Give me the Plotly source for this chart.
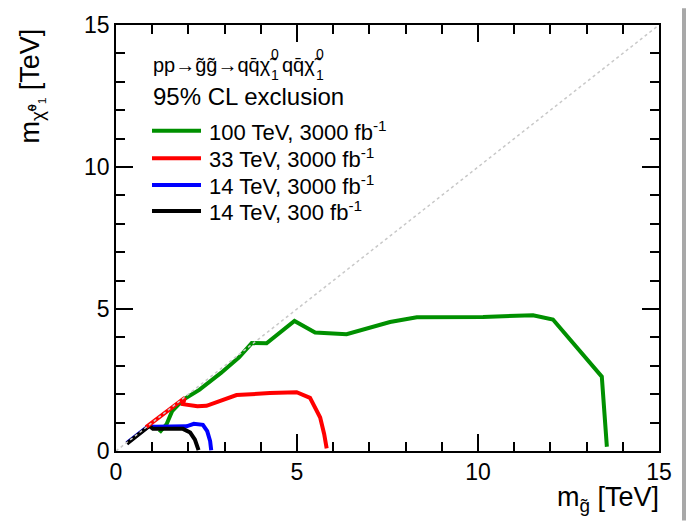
import plotly.graph_objects as go

# Exclusion contours: gluino mass (x) vs neutralino mass (y), both in TeV
green_x = [1.20, 1.40, 1.55, 1.85, 2.30, 2.90, 3.40, 3.75, 4.16, 4.93, 5.50, 6.37, 7.57, 8.31, 10.14, 11.52, 12.07, 13.42, 13.56]
green_y = [0.65, 0.95, 1.40, 1.80, 2.15, 2.75, 3.30, 3.80, 3.79, 4.58, 4.17, 4.11, 4.54, 4.71, 4.72, 4.78, 4.63, 2.62, 0.15]

red_x = [0.83, 1.30, 1.90, 1.85, 2.25, 2.50, 3.33, 4.25, 4.99, 5.36, 5.64, 5.75, 5.82]
red_y = [0.84, 1.30, 1.87, 1.65, 1.58, 1.59, 1.97, 2.04, 2.07, 1.87, 1.18, 0.60, 0.09]

blue_x = [0.30, 0.92, 1.05, 1.95, 2.15, 2.40, 2.52, 2.60, 2.63]
blue_y = [0.28, 0.90, 0.85, 0.87, 0.96, 0.92, 0.70, 0.35, 0.03]

black_x = [0.30, 0.92, 1.02, 1.85, 2.05, 2.18, 2.28]
black_y = [0.26, 0.88, 0.78, 0.78, 0.65, 0.40, 0.03]

series_labels = ["100 TeV, 3000 fb<sup>-1</sup>", "33 TeV, 3000 fb<sup>-1</sup>",
                 "14 TeV, 3000 fb<sup>-1</sup>", "14 TeV, 300 fb<sup>-1</sup>"]
series_colors = ["#009000", "#ff0000", "#0000ff", "#000000"]

diagonal = [0, 15]
axis_range = [0, 15]

FONT = "Liberation Sans, Arial, sans-serif"
W, H = 686, 521
L, R, T, B = 116, 659, 16, 451   # plot-area edges in pixels


def px(x):
    return (x - L) / (R - L)


def py(y):
    return (B - y) / (B - T)


fig = go.Figure()

curves = [(green_x, green_y), (red_x, red_y), (blue_x, blue_y), (black_x, black_y)]
draw_order = [0, 2, 3, 1]
for i in draw_order:
    xs, ys = curves[i]
    fig.add_trace(go.Scatter(x=xs, y=ys, mode="lines",
                             line=dict(color=series_colors[i], width=4),
                             showlegend=False, hoverinfo="skip"))

# m(gluino) = m(neutralino) reference line
fig.add_trace(go.Scatter(x=diagonal, y=diagonal, mode="lines",
                         line=dict(color="#c8c8c8", width=1.5, dash="dot"),
                         showlegend=False, hoverinfo="skip"))

# empty trace so the top/right tick axes get drawn
fig.add_trace(go.Scatter(x=[], y=[], xaxis="x2", yaxis="y2", showlegend=False,
                         hoverinfo="skip"))

tick_common = dict(range=axis_range, ticks="inside", ticklen=17, tickwidth=1.5,
                   tickcolor="black", dtick=5, tick0=0, showgrid=False, zeroline=False,
                   minor=dict(ticks="inside", ticklen=9, tickwidth=1.5,
                              tickcolor="black", dtick=1, showgrid=False))

fig.update_layout(
    width=W, height=H,
    margin=dict(l=L, r=W - R, t=T, b=H - B, pad=0),
    paper_bgcolor="white", plot_bgcolor="white",
    xaxis=dict(**tick_common, showline=True, linecolor="black", linewidth=1.5, mirror=True,
               tickfont=dict(family=FONT, size=23, color="black")),
    yaxis=dict(**tick_common, showline=True, linecolor="black", linewidth=1.5, mirror=True,
               tickfont=dict(family=FONT, size=23, color="black")),
    xaxis2=dict(**tick_common, overlaying="x", side="top", anchor="y2",
                showline=False, showticklabels=False),
    yaxis2=dict(**tick_common, overlaying="y", side="right", anchor="x2",
                showline=False, showticklabels=False),
    showlegend=False,
)

ann = []
head = dict(family=FONT, size=20, color="black")
small = dict(family=FONT, size=14, color="black")
# header: pp -> gluino gluino -> q qbar chi q qbar chi, with stacked 0/1 indices
ann.append(dict(text="pp→g̃g̃→qq̄χ̃", x=px(151), y=py(57), xanchor="left", yanchor="middle", font=head))
ann.append(dict(text="qq̄χ̃", x=px(280), y=py(57), xanchor="left", yanchor="middle", font=head))
for sx in [269, 314]:
    ann.append(dict(text="0", x=px(sx), y=py(46), xanchor="left", yanchor="middle", font=small))
    ann.append(dict(text="1", x=px(sx), y=py(67), xanchor="left", yanchor="middle", font=small))
ann.append(dict(text="95% CL exclusion", x=px(151), y=py(89), xanchor="left", yanchor="middle",
                font=dict(family=FONT, size=24, color="black")))

# legend block
legend_y = [124, 152, 179.5, 206]
shapes = []
for lab, col, ly in zip(series_labels, series_colors, legend_y):
    shapes.append(dict(type="line", xref="paper", yref="paper",
                       x0=px(152), x1=px(201), y0=py(ly), y1=py(ly),
                       line=dict(color=col, width=4)))
    ann.append(dict(text=lab, x=px(207), y=py(ly), xanchor="left", yanchor="middle",
                    font=dict(family=FONT, size=22, color="black")))

# axis titles
ann.append(dict(text="m<sub>χ̃⁰₁</sub> [TeV]", x=px(32), y=py(18), xanchor="center", yanchor="top",
                textangle=-90, font=dict(family=FONT, size=27, color="black")))
ann.append(dict(text="m<sub>g̃</sub> [TeV]", x=px(661), y=py(500), xanchor="right", yanchor="middle",
                font=dict(family=FONT, size=27, color="black")))

for a in ann:
    a.update(xref="paper", yref="paper", showarrow=False)

# page edge shading on the right
shapes.append(dict(type="rect", xref="paper", yref="paper", x0=px(682), x1=px(687),
                   y0=py(522), y1=py(-1), fillcolor="#a8a8a8", line=dict(width=0), layer="above"))

fig.update_layout(annotations=ann, shapes=shapes)
fig.write_html("out.html")
